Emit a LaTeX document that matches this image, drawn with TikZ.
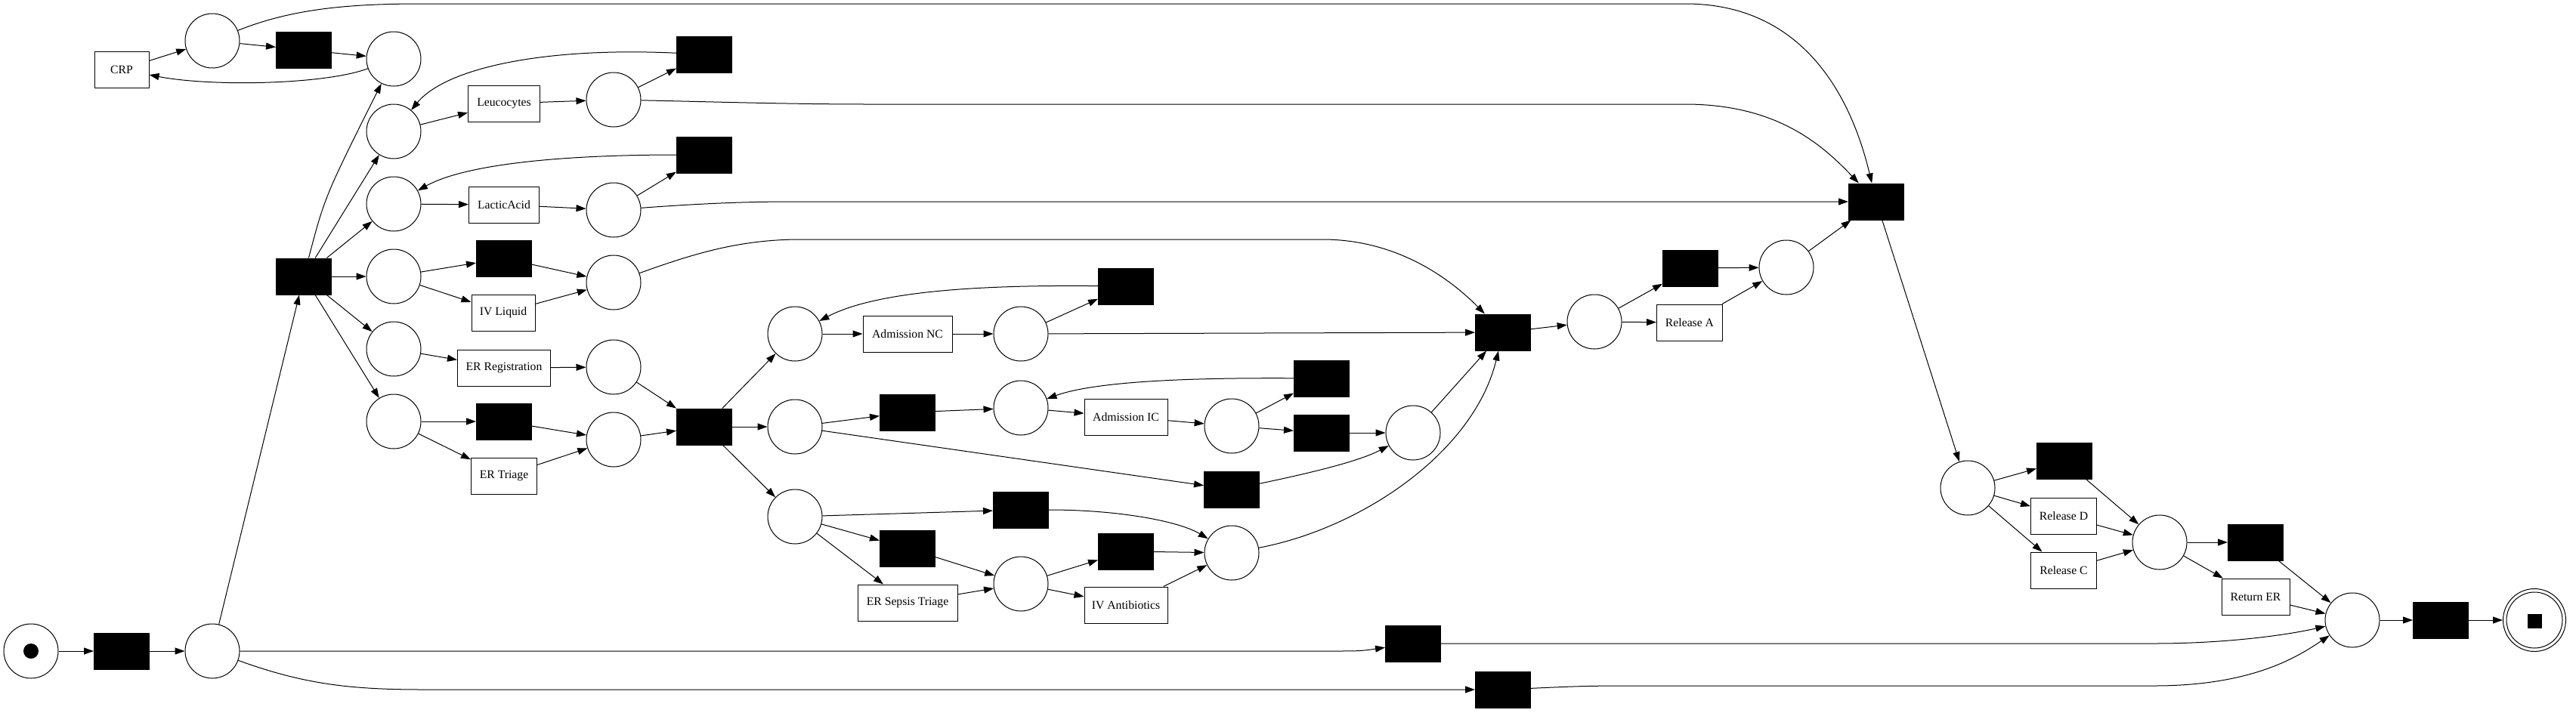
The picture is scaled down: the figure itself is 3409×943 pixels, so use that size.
\documentclass[tikz,border=0pt]{standalone}
\usepackage{fontspec}
\setmainfont{Liberation Serif}
\usetikzlibrary{arrows.meta}
\begin{document}
\begin{tikzpicture}[x=0.5pt,y=-0.5pt,
  every node/.style={font=\fontsize{7.85}{9.4}\selectfont},
  place/.style={circle,draw,line width=0.5pt,minimum size=36pt,inner sep=0pt},
  trans/.style={rectangle,draw,fill=black,line width=0.5pt,minimum width=36.5pt,minimum height=24pt,inner sep=0pt},
  act/.style={rectangle,draw,fill=white,line width=0.5pt,minimum height=24pt,minimum width=#1,inner sep=0pt},
  arc/.style={-{Triangle[length=6.5pt,width=4.5pt]},line width=0.5pt}]
\useasboundingbox (0,0) rectangle (3409,943);
% nodes
\node[place] (start) at (41,862) {};
\fill (start.center) circle (5pt);
\node[trans] (tstart) at (161,862) {};
\node[place] (p1) at (281,862) {};
\node[trans] (tsplit) at (402,366) {};
\node[act=36pt] (crp) at (161,92) {CRP};
\node[place] (pcrp1) at (281,54) {};
\node[trans] (tcrp) at (402,66) {};
\node[place] (pcrp0) at (521,78) {};
\node[place] (pleu0) at (521,174) {};
\node[place] (plac0) at (521,270) {};
\node[place] (piv0) at (521,366) {};
\node[place] (preg0) at (521,462) {};
\node[place] (ptri0) at (521,558) {};
\node[act=47.5pt] (leu) at (667,137) {Leucocytes};
\node[place] (pleu1) at (812,132) {};
\node[trans] (tleu) at (932,72) {};
\node[act=46.5pt] (lac) at (667,271) {LacticAcid};
\node[place] (plac1) at (812,278) {};
\node[trans] (tlac) at (932,205) {};
\node[trans] (tiv) at (667,342) {};
\node[act=42pt] (ivl) at (666,414) {IV Liquid};
\node[place] (piv1) at (812,374) {};
\node[act=61.5pt] (reg) at (667,487) {ER Registration};
\node[place] (preg1) at (812,486) {};
\node[trans] (ttri) at (667,558) {};
\node[act=43.5pt] (tri) at (667,630) {ER Triage};
\node[place] (ptri1) at (812,582) {};
\node[trans] (tj1) at (932,565) {};
\node[place] (pnc0) at (1052,442) {};
\node[place] (pic0) at (1052,565) {};
\node[place] (psep0) at (1052,684) {};
\node[act=59pt] (anc) at (1201,442) {Admission NC};
\node[place] (pnc1) at (1351,442) {};
\node[trans] (tnc) at (1490,379) {};
\node[trans] (tic) at (1201,546) {};
\node[place] (pic1) at (1351,540) {};
\node[act=55pt] (aic) at (1490,552) {Admission IC};
\node[place] (pic2) at (1630,564) {};
\node[trans] (ticl) at (1749,501) {};
\node[trans] (tice) at (1749,573) {};
\node[trans] (tics) at (1630,648) {};
\node[place] (pic3) at (1870,573) {};
\node[trans] (tseps) at (1351,675) {};
\node[trans] (tsepe) at (1201,726) {};
\node[act=66pt] (est) at (1201,798) {ER Sepsis Triage};
\node[place] (psep1) at (1351,773) {};
\node[trans] (tsab) at (1490,730) {};
\node[act=55pt] (iva) at (1490,801) {IV Antibiotics};
\node[place] (psep2) at (1630,732) {};
\node[trans] (tj2) at (1989,440) {};
\node[place] (prel0) at (2110,426) {};
\node[trans] (tra) at (2237,355) {};
\node[act=43.5pt] (rela) at (2236,427) {Release A};
\node[place] (prel1) at (2364,354) {};
\node[trans] (tj3) at (2483,267) {};
\node[place] (prel2) at (2604,646) {};
\node[trans] (trd) at (2732,610) {};
\node[act=43.5pt] (reld) at (2731,683) {Release D};
\node[act=43.5pt] (relc) at (2731,755) {Release C};
\node[place] (prel3) at (2858,718) {};
\node[trans] (tret) at (2985,718) {};
\node[act=45pt] (ret) at (2985,790) {Return ER};
\node[place] (pend0) at (3113,821) {};
\node[trans] (tend) at (3230,821) {};
\node[place,minimum size=41.5pt] (pfinal) at (3354,821) {};
\node[place,minimum size=37pt] (pfinalin) at (3354,821) {};
\node[rectangle,fill=black,minimum size=9.5pt,inner sep=0pt] (tok) at (3354,822) {};
\node[trans] (tska) at (1870,852) {};
\node[trans] (tskb) at (1989,913) {};
% edges
\draw[arc] (start) -- (tstart);
\draw[arc] (tstart) -- (p1);
\draw[arc] (p1) -- (tsplit);
\draw[arc] (p1) -- (1760,862) .. controls (1800,862) .. (tska);
\draw[arc] (p1) .. controls (400,905) and (460,913) .. (560,913) -- (tskb);
\draw[arc] (tsplit) .. controls (430,260) .. (pcrp0);
\draw[arc] (tsplit) -- (pleu0);
\draw[arc] (tsplit) -- (plac0);
\draw[arc] (tsplit) -- (piv0);
\draw[arc] (tsplit) -- (preg0);
\draw[arc] (tsplit) -- (ptri0);
% CRP
\draw[arc] (pcrp0) .. controls (430,112) and (280,115) .. (crp);
\draw[arc] (crp) -- (pcrp1);
\draw[arc] (pcrp1) -- (tcrp);
\draw[arc] (tcrp) -- (pcrp0);
\draw[arc] (pcrp1) .. controls (390,10) and (470,5) .. (560,5) -- (2230,5) .. controls (2400,5) and (2455,150) .. (tj3);
% Leucocytes
\draw[arc] (pleu0) -- (leu);
\draw[arc] (leu) -- (pleu1);
\draw[arc] (pleu1) -- (tleu);
\draw[arc] (tleu) .. controls (720,62) and (590,90) .. (pleu0);
\draw[arc] (pleu1) .. controls (950,135) and (1050,138) .. (1150,138) -- (2230,138) .. controls (2350,138) and (2410,190) .. (tj3);
% LacticAcid
\draw[arc] (plac0) -- (lac);
\draw[arc] (lac) -- (plac1);
\draw[arc] (plac1) -- (tlac);
\draw[arc] (tlac) .. controls (760,205) and (620,215) .. (plac0);
\draw[arc] (plac1) .. controls (920,270) and (980,267) .. (1050,267) -- (tj3);
% IV Liquid
\draw[arc] (piv0) -- (tiv);
\draw[arc] (piv0) -- (ivl);
\draw[arc] (tiv) -- (piv1);
\draw[arc] (ivl) -- (piv1);
\draw[arc] (piv1) .. controls (920,335) and (980,317) .. (1060,317) -- (1750,317) .. controls (1850,317) and (1920,370) .. (tj2);
% Registration / Triage
\draw[arc] (preg0) -- (reg);
\draw[arc] (reg) -- (preg1);
\draw[arc] (ptri0) -- (ttri);
\draw[arc] (ptri0) -- (tri);
\draw[arc] (ttri) -- (ptri1);
\draw[arc] (tri) -- (ptri1);
\draw[arc] (preg1) -- (tj1);
\draw[arc] (ptri1) -- (tj1);
\draw[arc] (tj1) -- (pnc0);
\draw[arc] (tj1) -- (pic0);
\draw[arc] (tj1) -- (psep0);
% Admission NC
\draw[arc] (pnc0) -- (anc);
\draw[arc] (anc) -- (pnc1);
\draw[arc] (pnc1) -- (tnc);
\draw[arc] (tnc) .. controls (1300,377) and (1160,385) .. (pnc0);
\draw[arc] (pnc1) -- (tj2);
% Admission IC
\draw[arc] (pic0) -- (tic);
\draw[arc] (pic0) -- (tics);
\draw[arc] (tic) -- (pic1);
\draw[arc] (pic1) -- (aic);
\draw[arc] (aic) -- (pic2);
\draw[arc] (pic2) -- (ticl);
\draw[arc] (pic2) -- (tice);
\draw[arc] (ticl) .. controls (1570,500) and (1450,505) .. (pic1);
\draw[arc] (tice) -- (pic3);
\draw[arc] (tics) .. controls (1740,625) and (1800,610) .. (pic3);
\draw[arc] (pic3) -- (tj2);
% Sepsis
\draw[arc] (psep0) -- (tseps);
\draw[arc] (psep0) -- (tsepe);
\draw[arc] (psep0) -- (est);
\draw[arc] (tsepe) -- (psep1);
\draw[arc] (est) -- (psep1);
\draw[arc] (psep1) -- (tsab);
\draw[arc] (psep1) -- (iva);
\draw[arc] (tsab) -- (psep2);
\draw[arc] (iva) -- (psep2);
\draw[arc] (tseps) .. controls (1480,675) and (1560,690) .. (psep2);
\draw[arc] (psep2) .. controls (1800,700) and (1950,600) .. (tj2);
% Release A
\draw[arc] (tj2) -- (prel0);
\draw[arc] (prel0) -- (tra);
\draw[arc] (prel0) -- (rela);
\draw[arc] (tra) -- (prel1);
\draw[arc] (rela) -- (prel1);
\draw[arc] (prel1) -- (tj3);
\draw[arc] (tj3) -- (prel2);
% Release D/C
\draw[arc] (prel2) -- (trd);
\draw[arc] (prel2) -- (reld);
\draw[arc] (prel2) -- (relc);
\draw[arc] (trd) -- (prel3);
\draw[arc] (reld) -- (prel3);
\draw[arc] (relc) -- (prel3);
\draw[arc] (prel3) -- (tret);
\draw[arc] (prel3) -- (ret);
\draw[arc] (tret) -- (pend0);
\draw[arc] (ret) -- (pend0);
\draw[arc] (tska) -- (2850,852) .. controls (2950,852) and (3030,840) .. (pend0);
\draw[arc] (tskb) .. controls (2100,908) .. (2200,908) -- (2850,908) .. controls (2980,908) and (3040,870) .. (pend0);
\draw[arc] (pend0) -- (tend);
\draw[arc] (tend) -- (pfinal);
\end{tikzpicture}
\end{document}
